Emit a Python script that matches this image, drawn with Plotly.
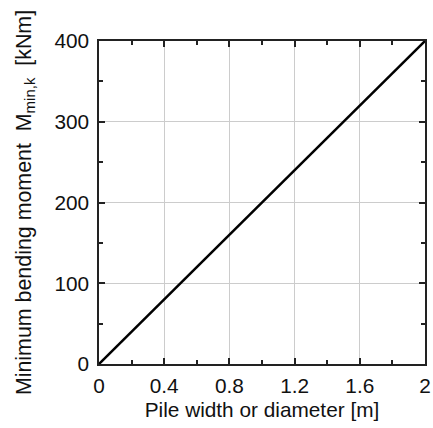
import plotly.graph_objects as go

pile_width = [0, 2]
min_moment = [0, 400]
x_ticks = [0, 0.4, 0.8, 1.2, 1.6, 2]
x_tick_labels = ["0", "0.4", "0.8", "1.2", "1.6", "2"]
y_ticks = [0, 100, 200, 300, 400]
y_tick_labels = ["0", "100", "200", "300", "400"]

fig = go.Figure()
fig.add_trace(go.Scatter(x=pile_width, y=min_moment, mode="lines",
                         line=dict(color="black", width=2.5), showlegend=False))

font = dict(family="Liberation Sans, Arial, sans-serif", size=20.8, color="#111")
ytitle_font = dict(family="Liberation Sans, Arial, sans-serif", size=21.4, color="#111")
axis_common = dict(showline=True, linecolor="#222", linewidth=1.5, mirror="allticks",
                   ticks="inside", ticklen=6, tickcolor="#222", tickwidth=1.5,
                   showgrid=True, gridcolor="#cccccc", gridwidth=1, zeroline=False,
                   tickfont=font, automargin=False, ticklabeloverflow="allow")

fig.update_xaxes(range=[0, 2], tickvals=x_ticks, ticktext=x_tick_labels,
                 ticklabelstandoff=2,
                 title=dict(text="Pile width or diameter [m]", font=font, standoff=7),
                 minor=dict(ticks="inside", ticklen=4, tickcolor="#222", dtick=0.2, tick0=0, showgrid=False),
                 **axis_common)
fig.update_yaxes(range=[0, 400], tickvals=y_ticks, ticktext=y_tick_labels,
                 ticklabelstandoff=4,
                 title=dict(text="Minimum bending moment  M<sub>min,k</sub>  [kNm]", font=ytitle_font, standoff=17),
                 minor=dict(ticks="inside", ticklen=4, tickcolor="#222", dtick=50, tick0=0, showgrid=False),
                 **axis_common)

fig.update_layout(width=433, height=428, margin=dict(l=99, r=8, t=41, b=64),
                  plot_bgcolor="white", paper_bgcolor="white", font=font)
fig.write_html("out.html", config={"displayModeBar": False},
               post_script="document.body.style.margin='0';document.body.style.overflow='hidden';")
